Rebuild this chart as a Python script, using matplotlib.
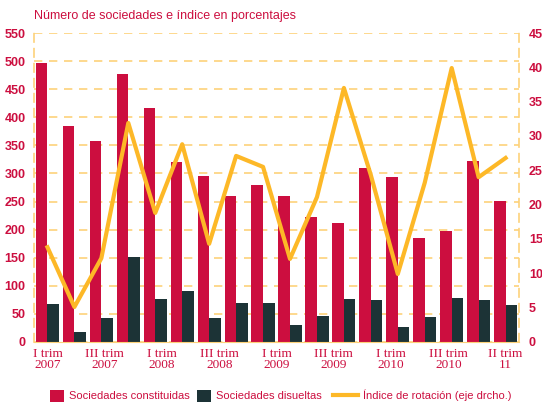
import matplotlib
matplotlib.use('Agg')
import matplotlib.pyplot as plt
import numpy as np

periodos = ['I trim 2007', 'II trim 2007', 'III trim 2007', 'IV trim 2007',
            'I trim 2008', 'II trim 2008', 'III trim 2008', 'IV trim 2008',
            'I trim 2009', 'II trim 2009', 'III trim 2009', 'IV trim 2009',
            'I trim 2010', 'II trim 2010', 'III trim 2010', 'IV trim 2010',
            'I trim 11', 'II trim 11']
constituidas = [496, 384, 358, 477, 416, 320, 295, 260, 279, 260, 222, 212,
                310, 294, 185, 198, 322, 251]
disueltas = [68, 18, 43, 151, 77, 91, 42, 70, 70, 31, 47, 77, 75, 27, 45, 79, 75, 66]
rotacion = [13.8, 5.1, 12.2, 31.9, 18.8, 28.8, 14.3, 27.1, 25.5, 12.1, 21.1, 37.0,
            24.3, 9.9, 23.2, 39.9, 24.0, 26.8]
# etiquetas del eje x (repartidas de forma uniforme, como en el original)
etiquetas_x = ['I trim\n2007', 'III trim\n2007', 'I trim\n2008', 'III trim\n2008',
               'I trim\n2009', 'III trim\n2009', 'I trim\n2010', 'III trim\n2010',
               'II trim\n11']

ROJO = '#CC0E3F'
OSCURO = '#1C3336'
AMARILLO = '#FDB827'
REJILLA = '#FDD27A'
SANS = 'Liberation Sans'

fig = plt.figure(figsize=(5.42, 4.05), dpi=100)
ax = fig.add_axes([0.0627, 0.1556, 0.895, 0.7629])
x = np.arange(len(periodos))
w = 0.43
ax.bar(x - w / 2, constituidas, w, color=ROJO, label='Sociedades constituidas', zorder=2)
ax.bar(x + w / 2, disueltas, w, color=OSCURO, label='Sociedades disueltas', zorder=2)
ax.set_xlim(-0.5, len(periodos) - 0.5)
ax.set_ylim(0, 550)
ax.set_yticks(range(0, 551, 50))
ax.yaxis.grid(True, color=REJILLA, linestyle=(0, (5, 4)), linewidth=1.2, zorder=0)
ax.set_axisbelow(True)
for s in ['top', 'right']:
    ax.spines[s].set_visible(False)
ax.spines['left'].set_color(REJILLA)
ax.spines['left'].set_linestyle((0, (5, 4)))
ax.spines['left'].set_linewidth(1.2)
ax.spines['bottom'].set_color(REJILLA)
ax.tick_params(axis='y', length=0, colors=ROJO, pad=6)
ax.tick_params(axis='x', length=0, colors=ROJO, pad=4)
ax.set_xticks(np.linspace(0, len(periodos) - 1, len(etiquetas_x)))
ax.set_xticklabels(etiquetas_x, family='Liberation Serif', fontsize=9.5, linespacing=0.95)
for lab in ax.get_yticklabels():
    lab.set_family(SANS)
    lab.set_fontweight('bold')
    lab.set_fontsize(9)

ax2 = ax.twinx()
ax2.plot(x, rotacion, color=AMARILLO, linewidth=3, label='Índice de rotación (eje drcho.)', zorder=3)
ax2.set_ylim(0, 45)
ax2.set_yticks(range(0, 46, 5))
for s in ['top', 'left', 'bottom']:
    ax2.spines[s].set_visible(False)
ax2.spines['right'].set_color(REJILLA)
ax2.spines['right'].set_linestyle((0, (5, 4)))
ax2.spines['right'].set_linewidth(1.2)
ax2.tick_params(axis='y', length=0, colors=ROJO, pad=7)
for lab in ax2.get_yticklabels():
    lab.set_family(SANS)
    lab.set_fontweight('bold')
    lab.set_fontsize(9)

fig.text(0.0627, 0.96, 'Número de sociedades e índice en porcentajes', color=ROJO,
         fontsize=9, family=SANS, va='center')

# leyenda: una entrada por posición, como en el original
h1, l1 = ax.get_legend_handles_labels()
h2, l2 = ax2.get_legend_handles_labels()
for h, l, xpos in zip(h1 + h2, l1 + l2, [0.092, 0.363, 0.614]):
    leg = fig.legend([h], [l], loc='lower left', bbox_to_anchor=(xpos, 0.008),
                     frameon=False, borderpad=0, borderaxespad=0,
                     handlelength=1.3 if l != l2[0] else 2.3, handleheight=1.3,
                     handletextpad=0.45, prop={'family': SANS, 'size': 8})
    if l == l2[0]:
        leg.legend_handles[0].set_linewidth(3)
    leg.get_texts()[0].set_color(ROJO)

fig.savefig('out.png', dpi=100)
